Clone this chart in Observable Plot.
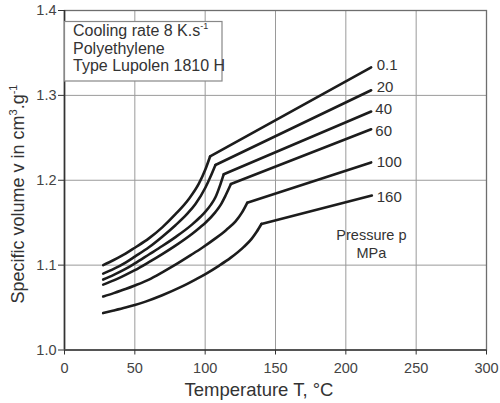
<!DOCTYPE html>
<html><head><meta charset="utf-8">
<script src="https://cdn.jsdelivr.net/npm/d3@7"></script>
<script src="https://cdn.jsdelivr.net/npm/@observablehq/plot@0.6"></script>
<style>
html,body{margin:0;padding:0;background:#fff;}
#chart{width:500px;height:403px;}
</style>
</head><body><div id="chart"></div>
<script>
// Pressure levels (MPa)
const pressures = ["0.1", "20", "40", "60", "100", "160"];
// Specific volume curves [Temperature °C, v cm³/g] — last point is the straight melt segment end
const curveP0_1 = [[27.5,1.100],[35,1.106],[43.4,1.1135],[50,1.1205],[60,1.1315],[69.5,1.1445],[78.9,1.160],[88.4,1.178],[95.5,1.196],[100.2,1.213],[103.5,1.228],[218,1.333]];
const curveP20  = [[27.5,1.090],[35,1.0955],[43.4,1.103],[50,1.110],[60,1.121],[69.5,1.1335],[78.9,1.147],[87,1.160],[93.1,1.172],[100.2,1.1915],[104,1.205],[107.3,1.218],[218,1.306]];
const curveP40  = [[27.5,1.083],[35,1.0885],[43.4,1.0955],[50,1.102],[60,1.1125],[69.5,1.1225],[78.9,1.133],[90.8,1.148],[96.7,1.157],[100.2,1.163],[104,1.171],[107.3,1.180],[110.9,1.1955],[113.2,1.207],[218,1.281]];
const curveP60  = [[27.5,1.077],[35,1.082],[43.4,1.0885],[50,1.094],[60,1.1035],[69.5,1.113],[78.9,1.123],[90.8,1.137],[96.7,1.145],[100.2,1.150],[107.3,1.1625],[111,1.171],[114.5,1.182],[118.3,1.1955],[218,1.260]];
const curveP100 = [[27.5,1.063],[35,1.067],[43.4,1.0718],[50,1.076],[60,1.083],[69.5,1.0915],[78.9,1.1005],[90,1.112],[97.9,1.1205],[107.3,1.1315],[115,1.1415],[121.6,1.1515],[126,1.1615],[129.9,1.1735],[218,1.221]];
const curveP160 = [[27.5,1.0435],[35,1.0465],[43.4,1.050],[50,1.053],[57.6,1.057],[69.5,1.0645],[82.5,1.074],[93,1.083],[100.2,1.0895],[110,1.0995],[118,1.1085],[127.5,1.1215],[133,1.131],[136.5,1.139],[140,1.1485],[218.5,1.182]];
const curves = [curveP0_1, curveP20, curveP40, curveP60, curveP100, curveP160];
// Curve label anchor values
const labelT = [222, 222, 221, 221, 222, 222];
const labelV = [1.336, 1.310, 1.2833, 1.2582, 1.221, 1.180];
// Axis ticks
const xTicks = [0, 50, 100, 150, 200, 250, 300];
const yTicks = [1.0, 1.1, 1.2, 1.3, 1.4];
// Texts
const infoLines = ["Cooling rate 8 K.s", "Polyethylene", "Type Lupolen 1810 H"];
const pressureNote = "Pressure p\nMPa";
const pressureNoteAt = [218.2, 1.1255];
const xTitle = "Temperature T, °C";

const FONT = "'Liberation Sans', Arial, Helvetica, sans-serif";

const below = curves.flatMap((pts, i) => pts.slice(0, -1).map(([T, v]) => ({T, v, p: pressures[i]})));
const above = curves.flatMap((pts, i) => pts.slice(-2).map(([T, v]) => ({T, v, p: pressures[i]})));
const labels = pressures.map((p, i) => ({p, T: labelT[i], v: labelV[i]}));

const plot = Plot.plot({
  width: 500, height: 403,
  marginLeft: 64, marginRight: 14, marginTop: 10, marginBottom: 53.5,
  style: {fontFamily: FONT, fontSize: "14.5px", color: "#333", background: "white", overflow: "visible"},
  x: {domain: [0, 300]},
  y: {domain: [1.0, 1.4]},
  marks: [
    Plot.gridX(xTicks, {stroke: "#9a9a9a", strokeOpacity: 1, strokeWidth: 1}),
    Plot.gridY(yTicks, {stroke: "#9a9a9a", strokeOpacity: 1, strokeWidth: 1}),
    Plot.frame({stroke: "#6e6e6e", strokeWidth: 1.3}),
    Plot.ruleX([0], {stroke: "#333", strokeWidth: 1.6}),
    Plot.ruleY([1.0], {stroke: "#555", strokeWidth: 2.2}),
    Plot.line(below, {x: "T", y: "v", z: "p", stroke: "#1c1c1c", strokeWidth: 2.6, curve: "monotone-x"}),
    Plot.line(above, {x: "T", y: "v", z: "p", stroke: "#1c1c1c", strokeWidth: 2.6, curve: "linear"}),
    Plot.text(labels, {x: "T", y: "v", text: "p", textAnchor: "start", fontSize: 15, fill: "#333"}),
    Plot.text([pressureNote], {x: () => pressureNoteAt[0], y: () => pressureNoteAt[1], text: d => d, textAnchor: "middle", fontSize: 14.5, lineHeight: 1.2, fill: "#333"}),
    Plot.axisY({ticks: yTicks, tickFormat: d => d.toFixed(1), tickSize: 6, tickPadding: 2, label: null, stroke: "#333", fill: "#444"}),
    Plot.axisX({ticks: xTicks, tickFormat: d => String(d), tickSize: 5, tickPadding: 8, label: null, stroke: "#333", fill: "#444"})
  ]
});

document.getElementById("chart").appendChild(plot);

const svg = d3.select(plot);
const g = svg.append("g").attr("font-family", FONT).attr("fill", "#333");
// info box
g.append("rect").attr("x", 64.5).attr("y", 21.5).attr("width", 157.5).attr("height", 59.5)
  .attr("fill", "white").attr("stroke", "#888").attr("stroke-width", 1.2);
infoLines.forEach((line, i) => {
  const t = g.append("text").attr("x", 73).attr("y", 36 + i * 17.6).attr("font-size", 16).attr("text-anchor", "start");
  t.append("tspan").text(line);
  if (i === 0) t.append("tspan").attr("font-size", 9).attr("dy", -7).text("-1");
});
// x title
g.append("text").attr("x", 259).attr("y", 396).attr("text-anchor", "middle").attr("font-size", 18.5).text(xTitle);
// y title
const yt = g.append("text").attr("transform", "translate(24,194) rotate(-90)").attr("text-anchor", "middle").attr("font-size", 18);
yt.append("tspan").text("Specific volume v in cm");
yt.append("tspan").attr("font-size", 11).attr("dy", -7.5).text("3");
yt.append("tspan").attr("dy", 7.5).text(".g");
yt.append("tspan").attr("font-size", 11).attr("dy", -7.5).text("-1");
</script>
</body></html>
